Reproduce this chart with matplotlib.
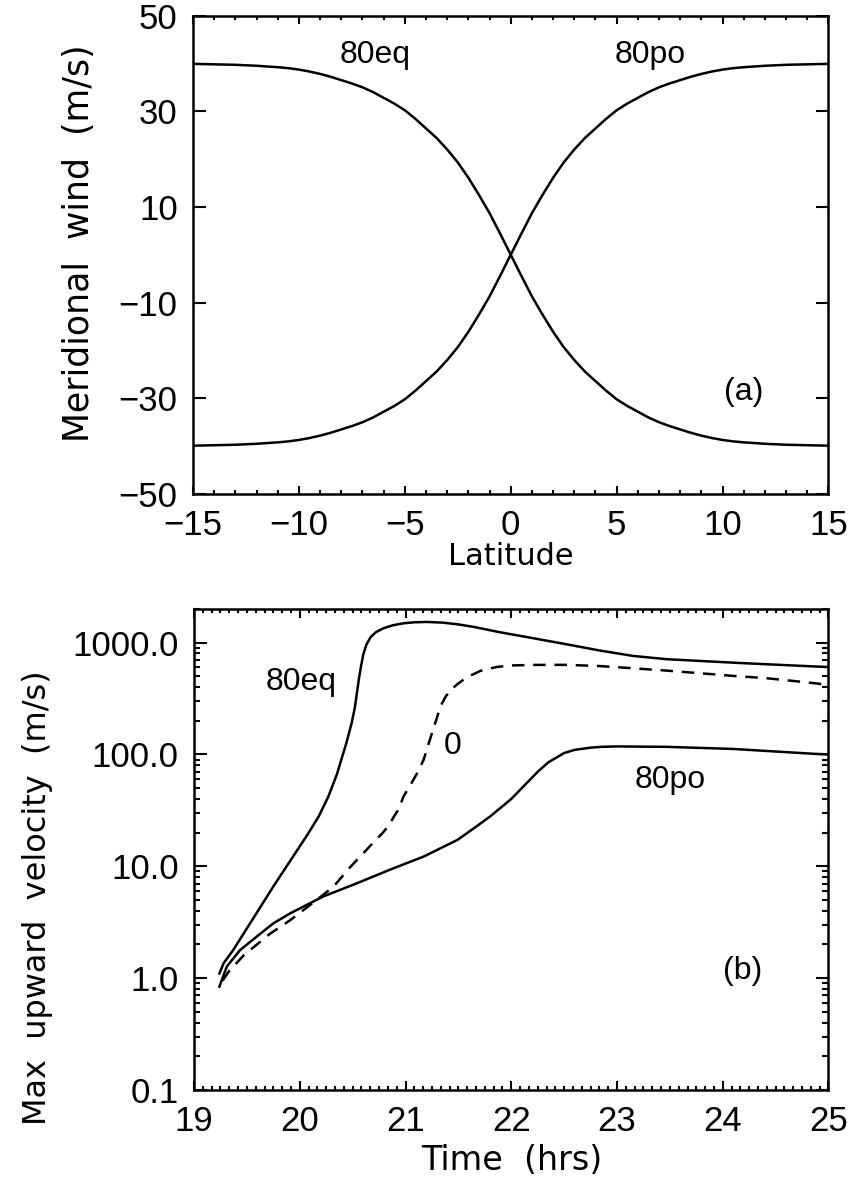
import numpy as np
import matplotlib
matplotlib.use("Agg")
import matplotlib.pyplot as plt
from matplotlib.ticker import MultipleLocator, FixedLocator, FuncFormatter, LogLocator, NullFormatter

# ---- panel (a): meridional wind vs latitude ----
latitude = [-15, -14.5, -14, -13.5, -13, -12.5, -12, -11.5, -11, -10.5, -10, -9.5, -9, -8.5,
            -8, -7.5, -7, -6.5, -6, -5.5, -5, -4.5, -4, -3.5, -3, -2.5, -2, -1.5, -1, -0.5, 0,
            0.5, 1, 1.5, 2, 2.5, 3, 3.5, 4, 4.5, 5, 5.5, 6, 6.5, 7, 7.5, 8,
            8.5, 9, 9.5, 10, 10.5, 11, 11.5, 12, 12.5, 13, 13.5, 14, 14.5, 15]
wind_80eq = [39.9, 39.85, 39.8, 39.75, 39.7, 39.6, 39.5, 39.35, 39.2, 39.0, 38.7, 38.3, 37.8, 37.2,
             36.5, 35.8, 35.0, 34.0, 32.8, 31.6, 30.2, 28.4, 26.4, 24.4, 22.0, 19.3, 16.1, 12.5, 8.7, 4.4, 0.0,
             -4.4, -8.7, -12.5, -16.1, -19.3, -22.0, -24.4, -26.4, -28.4, -30.2, -31.6, -32.8, -34.0, -35.0, -35.8, -36.5,
             -37.2, -37.8, -38.3, -38.7, -39.0, -39.2, -39.35, -39.5, -39.6, -39.7, -39.75, -39.8, -39.85, -39.9]
wind_80po = [-39.9, -39.85, -39.8, -39.75, -39.7, -39.6, -39.5, -39.35, -39.2, -39.0, -38.7, -38.3, -37.8, -37.2,
             -36.5, -35.8, -35.0, -34.0, -32.8, -31.6, -30.2, -28.4, -26.4, -24.4, -22.0, -19.3, -16.1, -12.5, -8.7, -4.4, 0.0,
             4.4, 8.7, 12.5, 16.1, 19.3, 22.0, 24.4, 26.4, 28.4, 30.2, 31.6, 32.8, 34.0, 35.0, 35.8, 36.5,
             37.2, 37.8, 38.3, 38.7, 39.0, 39.2, 39.35, 39.5, 39.6, 39.7, 39.75, 39.8, 39.85, 39.9]

# ---- panel (b): max upward velocity vs time ----
time_80eq = [19.24, 19.28, 19.37, 19.48, 19.59, 19.75, 19.91, 20.07, 20.18, 20.27, 20.35, 20.44,
             20.49, 20.52, 20.54, 20.56, 20.58, 20.60, 20.63, 20.67, 20.72, 20.79, 20.88, 20.98,
             21.08, 21.20, 21.35, 21.49, 21.65, 21.89, 22.21, 22.52, 22.84, 23.15, 23.47, 23.72,
             24.10, 24.41, 24.89, 25.0]
vel_80eq = [1.10, 1.36, 1.78, 2.6, 3.8, 6.6, 11.2, 19, 28, 42, 66, 126,
            190, 260, 352, 480, 620, 780, 960, 1120, 1240, 1343, 1430, 1489,
            1520, 1531, 1510, 1460, 1380, 1240, 1094, 968, 849, 761, 711, 691,
            662, 641, 611, 605]

time_80po = [19.24, 19.31, 19.435, 19.59, 19.75, 19.91, 20.22, 20.54, 20.85, 21.17, 21.49,
             21.65, 21.80, 22.0, 22.25, 22.35, 22.5, 22.6, 22.75, 22.85, 23.0, 23.47, 24.10, 24.89, 25.0]
vel_80po = [0.84, 1.27, 1.78, 2.34, 3.09, 3.8, 5.36, 7.05, 9.3, 12.2, 17.2,
            22, 27.9, 40, 70, 85, 103, 110, 115, 117, 118, 117, 112, 101, 100]

time_0 = [19.27, 19.33, 19.47, 19.72, 19.91, 20.16, 20.32, 20.48, 20.63, 20.70, 20.78, 20.84,
          20.89, 20.94, 20.98, 21.04, 21.11, 21.17, 21.23, 21.30, 21.34, 21.38, 21.43, 21.49,
          21.58, 21.71, 21.86, 21.99, 22.21, 22.52, 22.84, 23.15, 23.47, 23.78, 24.10, 24.41,
          24.73, 25.0]
vel_0 = [0.95, 1.15, 1.6, 2.5, 3.3, 5.0, 6.6, 9.9, 14, 16.5, 19.7, 23,
         27.8, 33, 42, 52, 68, 89, 135, 218, 280, 330, 380, 425,
         490, 560, 605, 625, 632, 633, 617, 590, 562, 533, 504, 481,
         448, 420]

tick_font = "Liberation Sans"
label_font = "DejaVu Sans"
LW = 1.8

fig = plt.figure(figsize=(8.48, 11.85), dpi=100)
ax1 = fig.add_axes([0.2276, 0.5831, 0.7494, 0.4038])
ax2 = fig.add_axes([0.2288, 0.0802, 0.7482, 0.4059])

for ax in (ax1, ax2):
    for sp in ax.spines.values():
        sp.set_linewidth(1.8)
    ax.tick_params(which="both", direction="in", top=True, right=True,
                   width=1.5, labelsize=25, pad=11, labelfontfamily=tick_font)

# panel (a)
ax1.plot(latitude, wind_80eq, color="black", lw=LW)
ax1.plot(latitude, wind_80po, color="black", lw=LW)
ax1.set_xlim(-15, 15)
ax1.set_ylim(-50, 50)
ax1.xaxis.set_major_locator(MultipleLocator(5))
ax1.xaxis.set_minor_locator(MultipleLocator(1))
ax1.yaxis.set_major_locator(FixedLocator([-50, -30, -10, 10, 30, 50]))
ax1.tick_params(axis="x", which="major", length=6)
ax1.tick_params(axis="x", which="minor", length=3.2)
ax1.tick_params(axis="y", which="major", length=9)
ax1.set_xlabel("Latitude", family=label_font, fontsize=22)
ax1.set_ylabel("Meridional  wind  (m/s)", family=label_font, fontsize=25)
ax1.xaxis.set_label_coords(0.5, -0.1)
ax1.yaxis.set_label_coords(-0.152, 0.525)
ax1.text(-6.4, 41.8, "80eq", family=tick_font, fontsize=23, ha="center", va="center")
ax1.text(6.6, 41.8, "80po", family=tick_font, fontsize=23, ha="center", va="center")
ax1.text(11.0, -28.7, "(a)", family=tick_font, fontsize=23, ha="center", va="center")

# panel (b)
ax2.plot(time_80eq, vel_80eq, color="black", lw=LW)
ax2.plot(time_80po, vel_80po, color="black", lw=LW)
ax2.plot(time_0, vel_0, color="black", lw=LW, dashes=(5, 3.5))
ax2.set_yscale("log")
ax2.set_xlim(19, 25)
ax2.set_ylim(0.1, 2000)
ax2.xaxis.set_major_locator(MultipleLocator(1))
ax2.xaxis.set_minor_locator(MultipleLocator(1 / 12))
ax2.yaxis.set_major_locator(FixedLocator([0.1, 1, 10, 100, 1000]))
ax2.yaxis.set_major_formatter(FuncFormatter(lambda v, p: "%.1f" % v))
ax2.yaxis.set_minor_locator(LogLocator(base=10, subs=np.arange(2, 10), numticks=20))
ax2.yaxis.set_minor_formatter(NullFormatter())
ax2.tick_params(axis="x", which="major", length=6.5)
ax2.tick_params(axis="x", which="minor", length=3)
ax2.tick_params(axis="y", which="major", length=9)
ax2.tick_params(axis="y", which="minor", length=4.5)
ax2.set_xlabel("Time  (hrs)", family=label_font, fontsize=24)
ax2.set_ylabel("Max  upward  velocity  (m/s)", family=label_font, fontsize=23)
ax2.xaxis.set_label_coords(0.5, -0.112)
ax2.yaxis.set_label_coords(-0.222, 0.40)
ax2.text(20.01, 448, "80eq", family=tick_font, fontsize=23, ha="center", va="center")
ax2.text(21.45, 118, "0", family=tick_font, fontsize=23, ha="center", va="center")
ax2.text(23.5, 59, "80po", family=tick_font, fontsize=23, ha="center", va="center")
ax2.text(24.19, 1.15, "(b)", family=tick_font, fontsize=23, ha="center", va="center")

fig.savefig("out.png", dpi=100, facecolor="white")
